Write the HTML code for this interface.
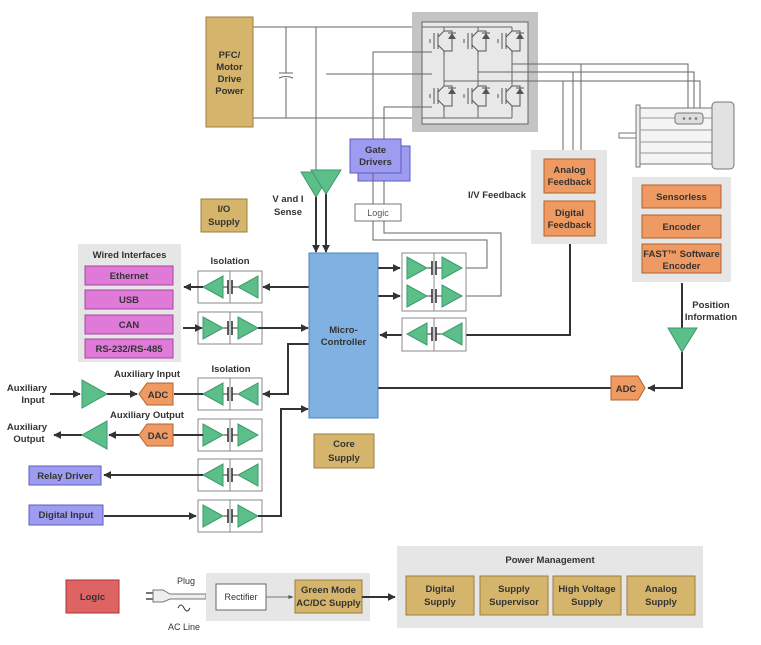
<!DOCTYPE html>
<html><head><meta charset="utf-8"><style>
html,body{margin:0;padding:0;background:#fff;width:761px;height:645px;overflow:hidden}
svg{display:block}
text{font-family:"Liberation Sans",sans-serif;font-weight:bold;fill:#333;font-size:9.5px;text-anchor:middle}
.ln{stroke:#333;stroke-width:2;fill:none}
.tl{stroke:#666;stroke-width:1;fill:none}
.tri{fill:#5cbf8a;stroke:#3b9a68;stroke-width:1}
.tan{fill:#d5b56c;stroke:#9a7e3e;stroke-width:1}
.org{fill:#ef9a62;stroke:#b0632c;stroke-width:1}
.pink{fill:#e07ad8;stroke:#a5449c;stroke-width:1}
.vio{fill:#9e9cf0;stroke:#5e5cc0;stroke-width:1}
.iso{fill:#fff;stroke:#888;stroke-width:1}
.gb{fill:#e6e6e6}
</style></head><body>
<svg width="761" height="645" viewBox="0 0 761 645">
<defs>
<marker id="a" viewBox="0 0 10 10" refX="9" refY="5" markerWidth="4" markerHeight="4" orient="auto"><path d="M0,0L10,5L0,10z" fill="#333"/></marker>
<marker id="b" viewBox="0 0 10 10" refX="9" refY="5" markerWidth="5" markerHeight="5" orient="auto"><path d="M0,1L10,5L0,9z" fill="#555"/></marker>
<g id="isoR"><line x1="24" y1="16" x2="30" y2="16" stroke="#333"/><line x1="34" y1="16" x2="40" y2="16" stroke="#333"/><line x1="30" y1="9" x2="30" y2="23" stroke="#333" stroke-width="1.6"/><line x1="34" y1="9" x2="34" y2="23" stroke="#333" stroke-width="1.6"/><path class="tri" d="M5,5L5,27L25,16z"/><path class="tri" d="M40,5L40,27L60,16z"/></g>
<g id="isoL"><line x1="24" y1="16" x2="30" y2="16" stroke="#333"/><line x1="34" y1="16" x2="40" y2="16" stroke="#333"/><line x1="30" y1="9" x2="30" y2="23" stroke="#333" stroke-width="1.6"/><line x1="34" y1="9" x2="34" y2="23" stroke="#333" stroke-width="1.6"/><path class="tri" d="M25,5L25,27L5,16z"/><path class="tri" d="M60,5L60,27L40,16z"/></g>
<g id="sw"><path d="M-10,-12V4M-14,-6V-2M-6,-12V4M-6,-8L0,-14M-6,0L0,6M0,-14V-18M0,6V10M0,-14H8V6H0" stroke="#555" fill="none" stroke-width="1"/><path d="M4,-6H12L8,-12z" fill="#555"/><line x1="4" y1="-12" x2="12" y2="-12" stroke="#555"/></g>
</defs>

<line class="tl" x1="253" y1="27" x2="512" y2="27"/>
<line class="tl" x1="253" y1="118" x2="512" y2="118"/>
<line class="tl" x1="286" y1="27" x2="286" y2="73"/><line class="tl" x1="286" y1="78" x2="286" y2="118"/>
<line class="tl" x1="279" y1="73" x2="293" y2="73"/><path class="tl" d="M279,78Q286,75 293,78"/>
<rect x="412" y="12" width="126" height="120" fill="#c4c4c4"/>
<rect x="422" y="22" width="106" height="102" fill="#e8e8e8" stroke="#666"/>
<line class="tl" x1="422" y1="27" x2="512" y2="27"/><line class="tl" x1="422" y1="118" x2="512" y2="118"/>
<g transform="translate(444,45)"><use href="#sw"/></g><g transform="translate(478,45)"><use href="#sw"/></g><g transform="translate(512,45)"><use href="#sw"/></g>
<g transform="translate(444,100)"><use href="#sw"/></g><g transform="translate(478,100)"><use href="#sw"/></g><g transform="translate(512,100)"><use href="#sw"/></g>
<path class="tl" d="M444,27V31M478,27V31M512,27V31M444,55V86M478,55V86M512,55V86M444,110V118M478,110V118M512,110V118"/>
<path class="tl" d="M444,81H700V118M478,72H694V118M512,64H688V118"/>
<path class="tl" d="M316,27V172M326,74H432M373,140V52H432M384,140V107H432"/>
<rect x="636" y="105" width="4" height="62" fill="#eee" stroke="#777"/>
<rect x="640" y="108" width="74" height="56" fill="#f4f4f4" stroke="#777"/>
<path d="M640,118H714M640,130H714M640,142H714M640,153H714" stroke="#999"/>
<rect x="712" y="102" width="22" height="67" rx="4" fill="#e2e2e2" stroke="#777"/>
<rect x="619" y="133" width="17" height="5" fill="#fff" stroke="#777"/>
<rect x="675" y="113" width="28" height="11" rx="3" fill="#ddd" stroke="#777"/>
<circle cx="684" cy="118.5" r="1.3" fill="#777"/><circle cx="690" cy="118.5" r="1.3" fill="#777"/><circle cx="696" cy="118.5" r="1.3" fill="#777"/>
<path class="tl" d="M563,81V150M573,72V150M581,64V150"/>

<rect class="tan" x="206" y="17" width="47" height="110"/>
<text x="229.5" y="58">PFC/</text><text x="229.5" y="70">Motor</text><text x="229.5" y="82">Drive</text><text x="229.5" y="94">Power</text>

<rect class="vio" x="358" y="146" width="52" height="35"/>
<rect class="vio" x="350" y="139" width="51" height="34"/>
<text x="375.5" y="153">Gate</text><text x="375.5" y="165">Drivers</text>
<path class="tl" d="M373,173V204M384,181V204"/>
<rect x="355" y="204" width="46" height="17" fill="#fff" stroke="#777"/>
<text x="378" y="216" style="font-weight:normal;fill:#555;font-size:9px">Logic</text>
<path class="tl" d="M373,221V240H487V268H466M384,221V233H501V296H466"/>

<path class="ln" d="M316,195V252" marker-end="url(#a)" stroke-width="1.6"/>
<path class="ln" d="M326,192V252" marker-end="url(#a)" stroke-width="1.6"/>
<path class="tri" d="M301,172L331,172L316,197z"/><path class="tri" d="M311,170L341,170L326,194z"/>
<text x="288" y="202">V and I</text><text x="288" y="215">Sense</text>
<rect class="tan" x="201" y="199" width="46" height="33"/><text x="224" y="212">I/O</text><text x="224" y="225">Supply</text>

<rect class="gb" x="78" y="244" width="103" height="118"/>
<text x="129.5" y="258">Wired Interfaces</text>
<rect class="pink" x="85" y="266" width="88" height="19"/><text x="129" y="279">Ethernet</text>
<rect class="pink" x="85" y="290" width="88" height="19"/><text x="129" y="303">USB</text>
<rect class="pink" x="85" y="315" width="88" height="19"/><text x="129" y="328">CAN</text>
<rect class="pink" x="85" y="339" width="88" height="19"/><text x="129" y="352">RS-232/RS-485</text>

<text x="230" y="264">Isolation</text><text x="231" y="372">Isolation</text>
<g transform="translate(198,271)"><rect class="iso" width="64" height="32"/><line x1="32" y1="0" x2="32" y2="32" stroke="#888"/><use href="#isoL"/></g>
<g transform="translate(198,312)"><rect class="iso" width="64" height="32"/><line x1="32" y1="0" x2="32" y2="32" stroke="#888"/><use href="#isoR"/></g>
<g transform="translate(198,378)"><rect class="iso" width="64" height="32"/><line x1="32" y1="0" x2="32" y2="32" stroke="#888"/><use href="#isoL"/></g>
<g transform="translate(198,419)"><rect class="iso" width="64" height="32"/><line x1="32" y1="0" x2="32" y2="32" stroke="#888"/><use href="#isoR"/></g>
<g transform="translate(198,459)"><rect class="iso" width="64" height="32"/><line x1="32" y1="0" x2="32" y2="32" stroke="#888"/><use href="#isoL"/></g>
<g transform="translate(198,500)"><rect class="iso" width="64" height="32"/><line x1="32" y1="0" x2="32" y2="32" stroke="#888"/><use href="#isoR"/></g>

<g class="ln" stroke-width="1.6">
<path d="M309,287H263" marker-end="url(#a)"/>
<path d="M203,287H184" marker-end="url(#a)"/>
<path d="M183,328H202" marker-end="url(#a)"/>
<path d="M258,328H308" marker-end="url(#a)"/>
<path d="M309,344H288V394H263" marker-end="url(#a)"/>
<path d="M203,394H174"/>
<path d="M50,394H80" marker-end="url(#a)"/>
<path d="M107,394H137" marker-end="url(#a)"/>
<path d="M173,435H203"/>
<path d="M139,435H109" marker-end="url(#a)"/>
<path d="M82,435H54" marker-end="url(#a)"/>
<path d="M203,475H104" marker-end="url(#a)"/>
<path d="M104,516H196" marker-end="url(#a)"/>
<path d="M258,516H281V409H308" marker-end="url(#a)"/>
<path d="M378,268H400" marker-end="url(#a)"/>
<path d="M378,296H400" marker-end="url(#a)"/>
<path d="M406,335H380" marker-end="url(#a)"/>
<path d="M463,335H570V244"/>
<path d="M378,388H611"/>
<path d="M682,283V328"/>
<path d="M682,352V388H648" marker-end="url(#a)"/>
</g>

<path class="tri" d="M82,380L82,408L107,394z"/>
<path class="tri" d="M107,421L107,449L82,435z"/>
<path class="org" d="M139,394L147,383H173V405H147z"/><text x="158" y="398">ADC</text>
<path class="org" d="M139,435L147,424H173V446H147z"/><text x="158" y="439">DAC</text>
<text x="147" y="377">Auxiliary Input</text><text x="147" y="418">Auxiliary Output</text>
<text x="27" y="391">Auxiliary</text><text x="33" y="403">Input</text>
<text x="27" y="430">Auxiliary</text><text x="29" y="442">Output</text>
<rect class="vio" x="29" y="466" width="72" height="19"/><text x="65" y="479">Relay Driver</text>
<rect class="vio" x="29" y="505" width="74" height="20"/><text x="66" y="518">Digital Input</text>

<rect x="309" y="253" width="69" height="165" fill="#7fb2e2" stroke="#4d84b8"/>
<text x="343.5" y="333">Micro-</text><text x="343.5" y="345">Controller</text>
<rect class="tan" x="314" y="434" width="60" height="34"/><text x="344" y="447">Core</text><text x="344" y="461">Supply</text>

<g transform="translate(402,253)"><rect class="iso" width="64" height="58"/><line x1="32" y1="0" x2="32" y2="58" stroke="#888"/></g>
<g transform="translate(402,252)"><use href="#isoR"/></g>
<g transform="translate(402,280)"><use href="#isoR"/></g>
<g transform="translate(402,318)"><rect class="iso" width="64" height="33"/><line x1="32" y1="0" x2="32" y2="33" stroke="#888"/><use href="#isoL"/></g>

<rect class="gb" x="531" y="150" width="76" height="94"/>
<rect class="org" x="544" y="159" width="51" height="34"/><text x="569.5" y="173">Analog</text><text x="569.5" y="185">Feedback</text>
<rect class="org" x="544" y="201" width="51" height="35"/><text x="569.5" y="216">Digital</text><text x="569.5" y="228">Feedback</text>
<text x="497" y="198">I/V Feedback</text>

<rect class="gb" x="632" y="177" width="99" height="105"/>
<rect class="org" x="642" y="185" width="79" height="23"/><text x="681.5" y="200">Sensorless</text>
<rect class="org" x="642" y="215" width="79" height="23"/><text x="681.5" y="230">Encoder</text>
<rect class="org" x="642" y="244" width="79" height="29"/><text x="681.5" y="257">FAST™ Software</text><text x="681.5" y="269">Encoder</text>
<text x="711" y="308">Position</text><text x="711" y="320">Information</text>
<path class="tri" d="M668,328L697,328L682,352z"/>
<path class="org" d="M611,376H638L645,388L638,400H611z"/><text x="626" y="392">ADC</text>

<rect x="66" y="580" width="53" height="33" fill="#de6464" stroke="#a33"/><text x="92.5" y="600">Logic</text>
<text x="186" y="584" style="font-weight:normal;font-size:9px">Plug</text>
<text x="184" y="630" style="font-weight:normal;font-size:9px">AC Line</text>
<path d="M178,608q3,-6 6,0t6,0" stroke="#333" fill="none"/>
<path d="M146,593H153M146,599H153" stroke="#777" stroke-width="2"/>
<path d="M153,590H163L170,594H206V599H170L163,602H153z" fill="#eee" stroke="#777"/>
<rect class="gb" x="206" y="573" width="164" height="48"/>
<rect x="216" y="584" width="50" height="26" fill="#fff" stroke="#666"/><text x="241" y="600" style="font-weight:normal;font-size:9px">Rectifier</text>
<path d="M266,597H293" stroke="#777" marker-end="url(#b)"/>
<rect class="tan" x="295" y="580" width="67" height="33"/><text x="328.5" y="593">Green Mode</text><text x="328.5" y="606">AC/DC Supply</text>
<path class="ln" d="M362,597H395" marker-end="url(#a)"/>
<rect class="gb" x="397" y="546" width="306" height="82"/>
<text x="550" y="563">Power Management</text>
<rect class="tan" x="406" y="576" width="68" height="39"/><text x="440" y="592">Digital</text><text x="440" y="605">Supply</text>
<rect class="tan" x="480" y="576" width="68" height="39"/><text x="514" y="592">Supply</text><text x="514" y="605">Supervisor</text>
<rect class="tan" x="553" y="576" width="68" height="39"/><text x="587" y="592">High Voltage</text><text x="587" y="605">Supply</text>
<rect class="tan" x="627" y="576" width="68" height="39"/><text x="661" y="592">Analog</text><text x="661" y="605">Supply</text>
</svg>
</body></html>
